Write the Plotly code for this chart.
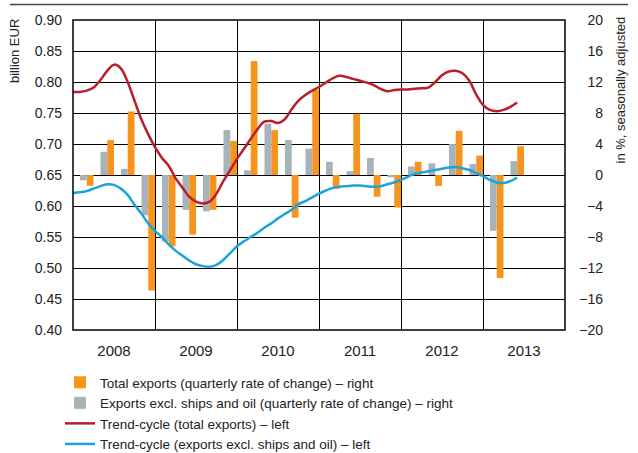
import numpy as np
import plotly.graph_objects as go

# quarterly rates of change, 2008Q1 .. 2013Q2 (in %)
quarters = ["2008Q1", "2008Q2", "2008Q3", "2008Q4", "2009Q1", "2009Q2", "2009Q3", "2009Q4",
            "2010Q1", "2010Q2", "2010Q3", "2010Q4", "2011Q1", "2011Q2", "2011Q3", "2011Q4",
            "2012Q1", "2012Q2", "2012Q3", "2012Q4", "2013Q1", "2013Q2"]
total_qoq = [-1.4, 4.5, 8.2, -14.9, -9.2, -7.7, -4.5, 4.4,
             14.7, 5.8, -5.5, 11.0, -1.8, 7.9, -2.8, -4.2,
             1.7, -1.4, 5.7, 2.5, -13.3, 3.7]
excl_qoq = [-0.7, 3.0, 0.8, -5.2, -8.6, -4.5, -4.7, 5.8,
            0.6, 6.6, 4.5, 3.4, 1.7, 0.5, 2.2, -0.3,
            1.1, 1.5, 4.0, 1.4, -7.2, 1.8]

# monthly trend-cycle, Jan 2008 .. Jun 2013 (billion EUR)
trend_total = [0.784, 0.784, 0.786, 0.791, 0.803, 0.818, 0.828, 0.822, 0.800, 0.770,
               0.740, 0.716, 0.695, 0.678, 0.665, 0.645, 0.630, 0.615, 0.607, 0.604,
               0.607, 0.620, 0.640, 0.658, 0.676, 0.692, 0.708, 0.724, 0.736, 0.737,
               0.734, 0.740, 0.756, 0.770, 0.779, 0.786, 0.792, 0.799, 0.806, 0.810,
               0.808, 0.805, 0.802, 0.799, 0.795, 0.789, 0.785, 0.787, 0.788, 0.788,
               0.789, 0.790, 0.791, 0.800, 0.811, 0.817, 0.818, 0.814, 0.802, 0.780,
               0.763, 0.755, 0.753, 0.755, 0.760, 0.767]
trend_excl = [0.621, 0.622, 0.624, 0.628, 0.632, 0.635, 0.634, 0.628, 0.618, 0.602,
              0.588, 0.572, 0.560, 0.550, 0.538, 0.528, 0.520, 0.512, 0.506, 0.503,
              0.502, 0.505, 0.513, 0.524, 0.535, 0.543, 0.550, 0.557, 0.565, 0.572,
              0.580, 0.587, 0.594, 0.603, 0.608, 0.614, 0.620, 0.625, 0.629, 0.631,
              0.632, 0.633, 0.633, 0.632, 0.631, 0.632, 0.635, 0.638, 0.642, 0.647,
              0.652, 0.654, 0.656, 0.658, 0.660, 0.662, 0.663, 0.661, 0.658, 0.653,
              0.648, 0.642, 0.638, 0.637, 0.640, 0.646]

years = ["2008", "2009", "2010", "2011", "2012", "2013"]

ORANGE = "#F7941D"
GREY = "#A8B3B9"
RED = "#B81F2A"
BLUE = "#1BA3DD"
FONT = "Liberation Sans, Arial, sans-serif"

q_end = np.arange(1, len(quarters) + 1)  # position axis in quarters
months = np.arange(len(trend_total)) / 3

fig = go.Figure()
fig.add_trace(go.Bar(x=q_end, y=total_qoq, width=0.33, offset=-0.33, marker_color=ORANGE,
                     marker_line_width=0, name="Total exports (quarterly rate of change) – right"))
fig.add_trace(go.Bar(x=q_end, y=excl_qoq, width=0.33, offset=-0.66, marker_color=GREY,
                     marker_line_width=0, name="Exports excl. ships and oil (quarterly rate of change) – right"))
fig.add_trace(go.Scatter(x=months, y=trend_total, yaxis="y2", mode="lines", line_shape="spline",
                         line=dict(color=RED, width=2.5), name="Trend-cycle (total exports) – left"))
fig.add_trace(go.Scatter(x=months, y=trend_excl, yaxis="y2", mode="lines", line_shape="spline",
                         line=dict(color=BLUE, width=2.5), name="Trend-cycle (exports excl. ships and oil) – left"))

PW = 638 - 73 - 30   # paper width in px
PH = 453 - 20 - 123  # plot height in px
dom_end = (565 - 73) / PW

fig.update_layout(
    width=638, height=453,
    margin=dict(l=73, r=30, t=20, b=123, autoexpand=False),
    paper_bgcolor="white", plot_bgcolor="white",
    font=dict(family=FONT, size=14, color="#222"),
    showlegend=True,
    barmode="overlay",
    legend=dict(x=(60 - 73) / PW, y=-(367 - 330) / PH, xanchor="left", yanchor="top",
                traceorder="normal", font=dict(size=13.5), itemwidth=30, tracegroupgap=0,
                bgcolor="rgba(0,0,0,0)"),
    xaxis=dict(domain=[0, dom_end], range=[0, 24], tickmode="array",
               tickvals=[2, 6, 10, 14, 18, 22], ticktext=years, showgrid=False,
               ticks="", showline=False, zeroline=False, ticklabelstandoff=10,
               tickfont=dict(size=15),
               minor=dict(tickmode="linear", tick0=0, dtick=4, showgrid=True,
                          gridcolor="black", gridwidth=1.2, ticks="")),
    yaxis=dict(range=[-20, 20], dtick=4, side="left", anchor="free", position=1.0,
               showgrid=True, gridcolor="black", gridwidth=1.2, zeroline=False,
               showline=False, ticks="", ticklabelstandoff=5),
    yaxis2=dict(range=[0.40, 0.90], dtick=0.05, tickformat=".2f", overlaying="y",
                side="left", anchor="x", showgrid=False, zeroline=False,
                showline=False, ticks="", ticklabelstandoff=10),
)

# frame round the plot area
fig.add_shape(type="rect", xref="x domain", yref="y domain", x0=0, x1=1, y0=0, y1=1,
              line=dict(color="black", width=1.5), layer="above")
# rule at the top
fig.add_shape(type="line", xref="paper", yref="paper", x0=(10 - 73) / PW, x1=(628 - 73) / PW,
              y0=1 + 15.5 / PH, y1=1 + 15.5 / PH, line=dict(color="#444", width=1.5))

fig.add_annotation(text="billion EUR", textangle=-90, xref="paper", yref="paper",
                   x=(15 - 73) / PW, y=1 + 3 / PH, xanchor="center", yanchor="top",
                   showarrow=False, font=dict(size=13))
fig.add_annotation(text="in %, seasonally adjusted", textangle=-90, xref="paper", yref="paper",
                   x=(620 - 73) / PW, y=1 + 5 / PH, xanchor="center", yanchor="top",
                   showarrow=False, font=dict(size=13))

fig.write_html("out.html", config={"displayModeBar": False},
               post_script="document.body.style.margin='0';")
